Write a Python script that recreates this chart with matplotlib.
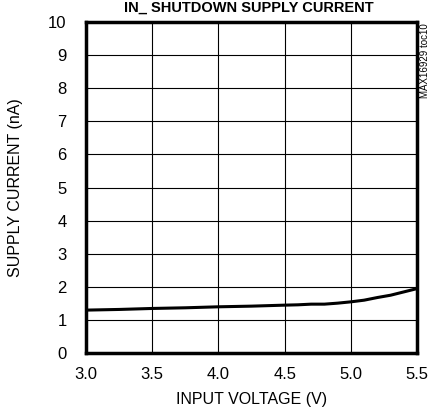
import matplotlib
matplotlib.use('Agg')
import matplotlib.pyplot as plt

# Data
voltage = [3.0, 3.25, 3.5, 3.75, 4.0, 4.25, 4.5, 4.6, 4.7, 4.8, 4.9, 5.0, 5.1, 5.2, 5.3, 5.4, 5.5]
current = [1.30, 1.32, 1.35, 1.37, 1.40, 1.42, 1.45, 1.46, 1.48, 1.48, 1.51, 1.55, 1.60, 1.68, 1.75, 1.85, 1.95]

x_ticks = [3.0, 3.5, 4.0, 4.5, 5.0, 5.5]
y_ticks = list(range(0, 11))

plt.rcParams['font.family'] = ['Liberation Sans', 'DejaVu Sans']

fig = plt.figure(figsize=(4.3, 4.15), dpi=100)
ax = fig.add_axes([0.2, 0.149, 0.77, 0.798])

ax.plot(voltage, current, color='black', linewidth=2.2)

ax.set_xlim(3.0, 5.5)
ax.set_ylim(0, 10)
ax.set_xticks(x_ticks)
ax.set_xticklabels([f'{v:.1f}' for v in x_ticks])
ax.set_yticks(y_ticks)
ax.grid(True, color='black', linewidth=0.8)
ax.tick_params(axis='x', length=0, labelsize=12, pad=10)
ax.tick_params(axis='y', length=0, labelsize=12, pad=14)
for s in ax.spines.values():
    s.set_linewidth(2.5)

ax.set_xlabel('INPUT VOLTAGE (V)', fontsize=11.5, labelpad=7)
ax.set_ylabel('SUPPLY CURRENT (nA)', fontsize=11.5, labelpad=18)

fig.text(0.578, 0.999, 'IN_ SHUTDOWN SUPPLY CURRENT', ha='center', va='top',
         fontsize=10.5, fontweight='bold')
fig.text(0.988, 0.945, 'MAX16929 toc10', rotation=90, ha='center', va='top', fontsize=7)

plt.savefig('out.png', dpi=100)
